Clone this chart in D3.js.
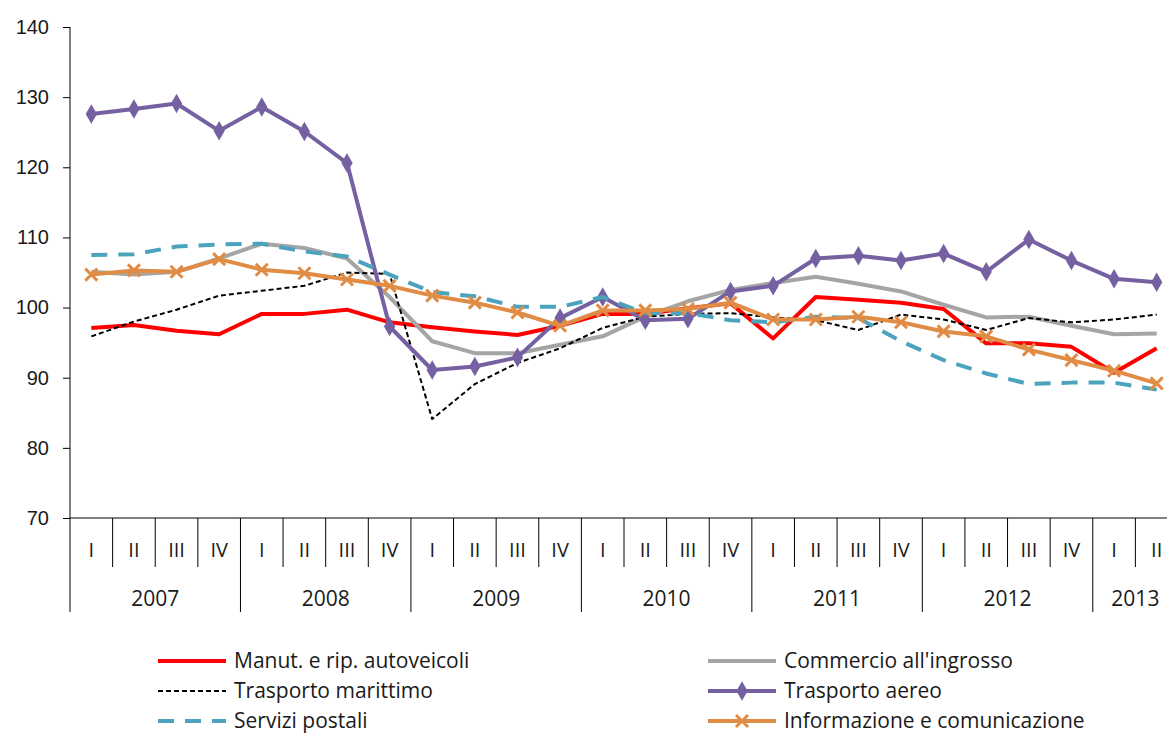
<!DOCTYPE html>
<html>
<head>
<meta charset="utf-8">
<script src="https://cdn.jsdelivr.net/npm/d3@7"></script>
<style>
  body { margin: 0; background: #fff; }
  svg { display: block; font-family: "Open Sans", "Liberation Sans", sans-serif; }
</style>
</head>
<body>
<div id="chart"></div>
<script>
// quarters 2007 I .. 2013 II
var years = ["2007", "2008", "2009", "2010", "2011", "2012", "2013"];
var quarterNames = ["I", "II", "III", "IV"];
var quartersPerYear = [4, 4, 4, 4, 4, 4, 2];
var yTicks = [70, 80, 90, 100, 110, 120, 130, 140];

var manutenzione = [97.1, 97.5, 96.7, 96.2, 99.1, 99.1, 99.7, 97.9, 97.2, 96.6, 96.1, 97.4, 99.1,
  99.1, 99.9, 100.6, 95.6, 101.5, 101.1, 100.7, 99.8, 94.9, 94.9, 94.4, 90.7, 94.2];
var commercio = [105.1, 104.7, 105.1, 107.0, 109.1, 108.5, 107.0, 101.5, 95.2, 93.5, 93.5, 94.7, 95.9,
  98.7, 100.9, 102.5, 103.5, 104.4, 103.4, 102.3, 100.4, 98.6, 98.7, 97.4, 96.2, 96.3];
var marittimo = [95.9, 98.0, 99.7, 101.7, 102.4, 103.1, 105.0, 104.8, 84.1, 89.1, 92.1, 94.2, 97.1,
  98.7, 99.1, 99.2, 98.6, 98.2, 96.8, 99.0, 98.3, 96.8, 98.5, 97.9, 98.3, 99.0];
var aereo = [127.6, 128.3, 129.1, 125.2, 128.6, 125.1, 120.6, 97.3, 91.1, 91.6, 92.9, 98.5, 101.5,
  98.2, 98.4, 102.3, 103.1, 107.0, 107.4, 106.7, 107.7, 105.1, 109.7, 106.7, 104.1, 103.6];
var postali = [107.5, 107.6, 108.7, 109.0, 109.1, 108.0, 107.3, 104.7, 102.2, 101.6, 100.1, 100.1, 101.5,
  99.2, 99.2, 98.2, 97.9, 98.7, 98.5, 95.2, 92.5, 90.6, 89.1, 89.3, 89.3, 88.3];
var informazione = [104.7, 105.3, 105.1, 106.9, 105.4, 104.9, 104.0, 103.1, 101.7, 100.7, 99.3, 97.4, 99.6,
  99.6, 99.8, 100.7, 98.3, 98.3, 98.7, 97.9, 96.6, 95.9, 94.0, 92.5, 91.0, 89.2];

var categories = [];
years.forEach(function(y, i) {
  for (var q = 0; q < quartersPerYear[i]; q++) categories.push(y + "-" + quarterNames[q]);
});

var series = [
  {name: "Manut. e rip. autoveicoli", values: manutenzione, color: "#FF0000", width: 4, dash: null, marker: null},
  {name: "Commercio all'ingrosso", values: commercio, color: "#A5A5A5", width: 4, dash: null, marker: null},
  {name: "Trasporto marittimo", values: marittimo, color: "#000000", width: 2, dash: "5,3", marker: null},
  {name: "Trasporto aereo", values: aereo, color: "#7560A1", width: 4, dash: null, marker: "diamond"},
  {name: "Servizi postali", values: postali, color: "#4BA3BE", width: 4, dash: "16,11", marker: null},
  {name: "Informazione e comunicazione", values: informazione, color: "#E08C45", width: 4, dash: null, marker: "x"}
];
// legend layout order (two columns)
var legendOrder = [0, 2, 4, 1, 3, 5];

var W = 1167, H = 738;
var plotLeft = 70, plotRight = 1178, plotTop = 27, plotBottom = 518;

var svg = d3.select("#chart").append("svg")
  .attr("width", W).attr("height", H);

var x = d3.scaleBand().domain(categories).range([plotLeft, plotRight]);
var y = d3.scaleLinear().domain([70, 140]).range([plotBottom, plotTop]);
var cx = function(i) { return x(categories[i]) + x.bandwidth() / 2; };

// y axis
var yAxis = d3.axisLeft(y).tickValues(yTicks).tickSize(7).tickPadding(14);
var gy = svg.append("g").attr("transform", "translate(" + plotLeft + ",0)").call(yAxis);
gy.select(".domain").remove();
gy.selectAll("text").style("font-size", "20px").attr("fill", "#1a1a1a");
gy.selectAll("line").attr("stroke", "#000");
svg.append("line")
  .attr("x1", plotLeft).attr("x2", plotLeft)
  .attr("y1", plotTop).attr("y2", 612)
  .attr("stroke", "#000");

// x axis: baseline, quarter separators, year separators
svg.append("line")
  .attr("x1", plotLeft).attr("x2", plotRight)
  .attr("y1", plotBottom).attr("y2", plotBottom)
  .attr("stroke", "#000");

svg.append("g").selectAll("line")
  .data(categories.slice(1))
  .enter().append("line")
  .attr("x1", function(d) { return x(d); })
  .attr("x2", function(d) { return x(d); })
  .attr("y1", plotBottom)
  .attr("y2", function(d) { return d.split("-")[1] === "I" ? 612 : 567; })
  .attr("stroke", "#000");

svg.append("g").selectAll("text")
  .data(categories)
  .enter().append("text")
  .attr("x", function(d) { return x(d) + x.bandwidth() / 2; })
  .attr("y", 557)
  .attr("text-anchor", "middle")
  .style("font-size", "20px")
  .attr("fill", "#1a1a1a")
  .text(function(d) { return d.split("-")[1]; });

svg.append("g").selectAll("text")
  .data(years)
  .enter().append("text")
  .attr("x", function(d, i) {
    var first = categories.indexOf(d + "-I");
    var last = first + quartersPerYear[i] - 1;
    return (x(categories[first]) + x(categories[last]) + x.bandwidth()) / 2;
  })
  .attr("y", 606)
  .attr("text-anchor", "middle")
  .style("font-size", "21px")
  .attr("fill", "#1a1a1a")
  .text(function(d) { return d; });

// lines
var line = d3.line()
  .x(function(d, i) { return cx(i); })
  .y(function(d) { return y(d); });

var diamond = d3.symbol().type(d3.symbolDiamond).size(110);

series.forEach(function(s) {
  var g = svg.append("g");
  g.append("path")
    .datum(s.values)
    .attr("d", line)
    .attr("fill", "none")
    .attr("stroke", s.color)
    .attr("stroke-width", s.width)
    .attr("stroke-linejoin", "round")
    .attr("stroke-dasharray", s.dash);
  if (s.marker === "diamond") {
    g.selectAll("path.m").data(s.values).enter().append("path")
      .attr("class", "m")
      .attr("d", diamond)
      .attr("transform", function(d, i) { return "translate(" + cx(i) + "," + y(d) + ")"; })
      .attr("fill", s.color);
  }
  if (s.marker === "x") {
    g.selectAll("path.m").data(s.values).enter().append("path")
      .attr("class", "m")
      .attr("d", "M-6,-6L6,6M-6,6L6,-6")
      .attr("transform", function(d, i) { return "translate(" + cx(i) + "," + y(d) + ")"; })
      .attr("stroke", s.color)
      .attr("stroke-width", 3);
  }
});

// legend
var legend = svg.append("g").selectAll("g")
  .data(legendOrder)
  .enter().append("g")
  .attr("transform", function(d, i) {
    var col = Math.floor(i / 3), row = i % 3;
    return "translate(" + (col === 0 ? 158 : 708) + "," + (661 + row * 30) + ")";
  });

legend.append("line")
  .attr("x1", 0).attr("x2", 68)
  .attr("y1", 0).attr("y2", 0)
  .attr("stroke", function(d) { return series[d].color; })
  .attr("stroke-width", function(d) { return series[d].width; })
  .attr("stroke-dasharray", function(d) { return series[d].dash; });

legend.filter(function(d) { return series[d].marker === "diamond"; })
  .append("path").attr("d", diamond).attr("transform", "translate(34,0)")
  .attr("fill", function(d) { return series[d].color; });
legend.filter(function(d) { return series[d].marker === "x"; })
  .append("path").attr("d", "M-6,-6L6,6M-6,6L6,-6").attr("transform", "translate(34,0)")
  .attr("stroke", function(d) { return series[d].color; }).attr("stroke-width", 3);

legend.append("text")
  .attr("x", 76).attr("y", 7)
  .style("font-size", "21px")
  .attr("fill", "#1a1a1a")
  .text(function(d) { return series[d].name; });
</script>
</body>
</html>
